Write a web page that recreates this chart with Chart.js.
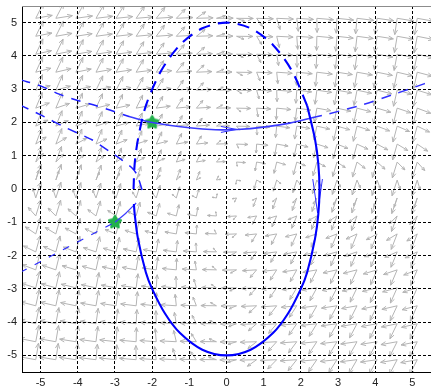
<!DOCTYPE html>
<html>
<head>
<meta charset="utf-8">
<script src="https://cdn.jsdelivr.net/npm/chart.js@4/dist/chart.umd.min.js"></script>
<style>
  html, body { margin: 0; padding: 0; background: #fff; }
</style>
</head>
<body>
<canvas id="chart" width="431" height="388"></canvas>
<script>
// axis ticks
const xTicks = [-5, -4, -3, -2, -1, 0, 1, 2, 3, 4, 5];
const yTicks = [-5, -4, -3, -2, -1, 0, 1, 2, 3, 4, 5];

// closed orbit: solid lower part (clockwise), dashed upper part
const orbitSolidX = [2.17, 2.38, 2.47, 2.5, 2.47, 2.38, 2.17, 2.0, 1.65, 1.25, 0.65, 0, -0.65, -1.25, -1.65, -2.0, -2.17, -2.38, -2.47, -2.49];
const orbitSolidY = [2.5, 1.5, 0.75, 0, -0.75, -1.5, -2.5, -3, -3.75, -4.33, -4.83, -5, -4.83, -4.33, -3.75, -3, -2.5, -1.5, -0.75, -0.45];
const orbitDashX = [2.17, 1.77, 1.25, 0.65, 0, -0.65, -1.25, -1.77, -2.17, -2.38, -2.47, -2.5];
const orbitDashY = [2.5, 3.53, 4.33, 4.83, 5, 4.83, 4.33, 3.53, 2.5, 1.5, 0.75, 0];

// upper trajectory through (-2, 2)
const pathALeftX = [-5.54, -5, -4.5, -4, -3.5, -3.16, -2.6];
const pathALeftY = [3.28, 3.1, 2.85, 2.66, 2.5, 2.38, 2.17];
const pathAMidX = [-2.6, -2, -1, -0.3, 0.3, 1, 1.7, 2.3];
const pathAMidY = [2.17, 2.0, 1.84, 1.78, 1.79, 1.86, 1.98, 2.14];
const pathARightX = [2.3, 2.65, 3.65, 4.46, 5.08, 5.54];
const pathARightY = [2.14, 2.23, 2.53, 2.83, 3.07, 3.25];

// second dashed trajectory from upper left
const pathBX = [-5.57, -5.0, -4.32, -3.62, -3.08, -2.81, -2.54, -2.4, -2.27];
const pathBY = [2.53, 2.23, 1.84, 1.48, 1.08, 0.87, 0.63, 0.42, -0.03];

// lower trajectory through (-3, -1)
const pathCDashX = [-5.54, -3];
const pathCDashY = [-2.5, -1];
const pathCSolidX = [-3, -2.7, -2.43];
const pathCSolidY = [-1, -0.72, -0.42];

// arrow heads on the curves
const headOrbitX = [2.32, 2.45, 2.58];
const headOrbitY = [0.3, -0.72, 0.3];
const headPathX = [-0.15, 0.27, -0.15];
const headPathY = [1.88, 1.79, 1.7];

// start points
const startX = [-2, -3];
const startY = [2, -1];

// direction field grid
const fieldX = [-5.13, -4.59, -4.05, -3.51, -2.97, -2.43, -1.89, -1.35, -0.81, -0.27, 0.27, 0.81, 1.35, 1.89, 2.43, 2.97, 3.51, 4.05, 4.59, 5.13];
const fieldY = [-5.13, -4.59, -4.05, -3.51, -2.97, -2.43, -1.89, -1.35, -0.81, -0.27, 0.27, 0.81, 1.35, 1.89, 2.43, 2.97, 3.51, 4.05, 4.59, 5.13];

const FONT = { family: 'Liberation Sans, Arial, sans-serif', size: 11 };

// two arrows per grid point
function fieldVectors(x, y) {
  return [
    [y, -0.2 * x],
    [-0.3 * x + 0.15 * y, -x],
  ];
}

const pts = (xs, ys) => xs.map((v, i) => ({ x: v, y: ys[i] }));

function curve(xs, ys, color, width, dash, tension = 0.3) {
  return {
    data: pts(xs, ys),
    showLine: true,
    borderColor: color,
    borderWidth: width,
    borderDash: dash,
    pointRadius: 0,
    tension,
    fill: false,
  };
}

function starImage() {
  const c = document.createElement('canvas');
  c.width = c.height = 16;
  const g = c.getContext('2d');
  g.fillStyle = g.strokeStyle = '#22b14c';
  g.lineWidth = 2;
  g.lineJoin = 'round';
  g.beginPath();
  for (let i = 0; i < 10; i++) {
    const r = i % 2 ? 3.6 : 6.4;
    const a = -Math.PI / 2 + i * Math.PI / 5;
    g.lineTo(8 + r * Math.cos(a), 8 + r * Math.sin(a));
  }
  g.closePath();
  g.fill();
  g.stroke();
  return c;
}

const quiverPlugin = {
  id: 'quiver',
  beforeDraw(chart) {
    const { ctx, chartArea: a, scales: { x, y } } = chart;
    ctx.save();
    ctx.beginPath();
    ctx.rect(a.left, a.top, a.right - a.left, a.bottom - a.top);
    ctx.clip();
    ctx.strokeStyle = '#b4b4b4';
    ctx.lineWidth = 1;
    fieldY.forEach(fy => fieldX.forEach(fx => {
      fieldVectors(fx, fy).forEach(([u, v]) => {
        const m = Math.hypot(u, v);
        if (!m) return;
        const len = 20 * m / (m + 1);
        const px = x.getPixelForValue(fx), py = y.getPixelForValue(fy);
        const dx = x.getPixelForValue(fx + u) - px;
        const dy = y.getPixelForValue(fy + v) - py;
        const d = Math.hypot(dx, dy);
        const ex = px + dx / d * len, ey = py + dy / d * len;
        const ang = Math.atan2(ey - py, ex - px);
        const h = len * 0.33;
        ctx.beginPath();
        ctx.moveTo(px, py);
        ctx.lineTo(ex, ey);
        ctx.moveTo(ex - h * Math.cos(ang - 0.4), ey - h * Math.sin(ang - 0.4));
        ctx.lineTo(ex, ey);
        ctx.lineTo(ex - h * Math.cos(ang + 0.4), ey - h * Math.sin(ang + 0.4));
        ctx.stroke();
      });
    }));
    ctx.restore();
  },
  afterDraw(chart) {
    const { ctx, chartArea: a } = chart;
    ctx.save();
    ctx.strokeStyle = '#8c8c8c';
    ctx.lineWidth = 1;
    ctx.beginPath();
    ctx.moveTo(a.left, a.top + 0.5);
    ctx.lineTo(a.right, a.top + 0.5);
    ctx.stroke();
    ctx.restore();
  },
};

const star = starImage();

new Chart(document.getElementById('chart'), {
  type: 'scatter',
  data: {
    datasets: [
      curve(orbitDashX, orbitDashY, '#0000ff', 2.1, [12, 8]),
      curve(orbitSolidX, orbitSolidY, '#0000ff', 2.1, []),
      curve(pathALeftX, pathALeftY, '#1f1fff', 1.5, [10, 8]),
      curve(pathAMidX, pathAMidY, '#3c3cff', 1.6, []),
      curve(pathARightX, pathARightY, '#3030ff', 1.5, [10, 8]),
      curve(pathBX, pathBY, '#1f1fff', 1.5, [10, 8], 0.2),
      curve(pathCDashX, pathCDashY, '#2a2aff', 1.2, [7, 9], 0),
      curve(pathCSolidX, pathCSolidY, '#3c3cff', 1.2, [], 0.2),
      curve(headOrbitX, headOrbitY, '#3030ff', 1, [], 0),
      curve(headPathX, headPathY, '#3030ff', 1, [], 0),
      {
        data: pts(startX, startY),
        pointStyle: star,
        pointRadius: 8,
        showLine: false,
      },
    ],
  },
  options: {
    responsive: false,
    animation: false,
    layout: { autoPadding: false, padding: { top: 6, right: 0, left: 0, bottom: 0 } },
    plugins: { legend: { display: false }, tooltip: { enabled: false } },
    scales: {
      x: {
        type: 'linear',
        min: -5.5,
        max: 5.5,
        afterBuildTicks: s => { s.ticks = xTicks.map(v => ({ value: v })); },
        afterFit: s => { s.height = 16; s.paddingLeft = 0; s.paddingRight = 0; },
        grid: { color: '#000', lineWidth: 1, drawTicks: false },
        border: { display: true, color: '#000', width: 1, dash: [3, 2] },
        ticks: { color: '#222', font: FONT, padding: 4, maxRotation: 0 },
      },
      y: {
        type: 'linear',
        min: -5.5,
        max: 5.5,
        afterBuildTicks: s => { s.ticks = yTicks.map(v => ({ value: v })); },
        afterFit: s => { s.width = 22; s.paddingTop = 0; s.paddingBottom = 0; },
        grid: { color: '#000', lineWidth: 1, drawTicks: false },
        border: { display: true, color: '#000', width: 1, dash: [3, 2] },
        ticks: { color: '#222', font: FONT, padding: 5 },
      },
    },
  },
  plugins: [quiverPlugin],
});
</script>
</body>
</html>
